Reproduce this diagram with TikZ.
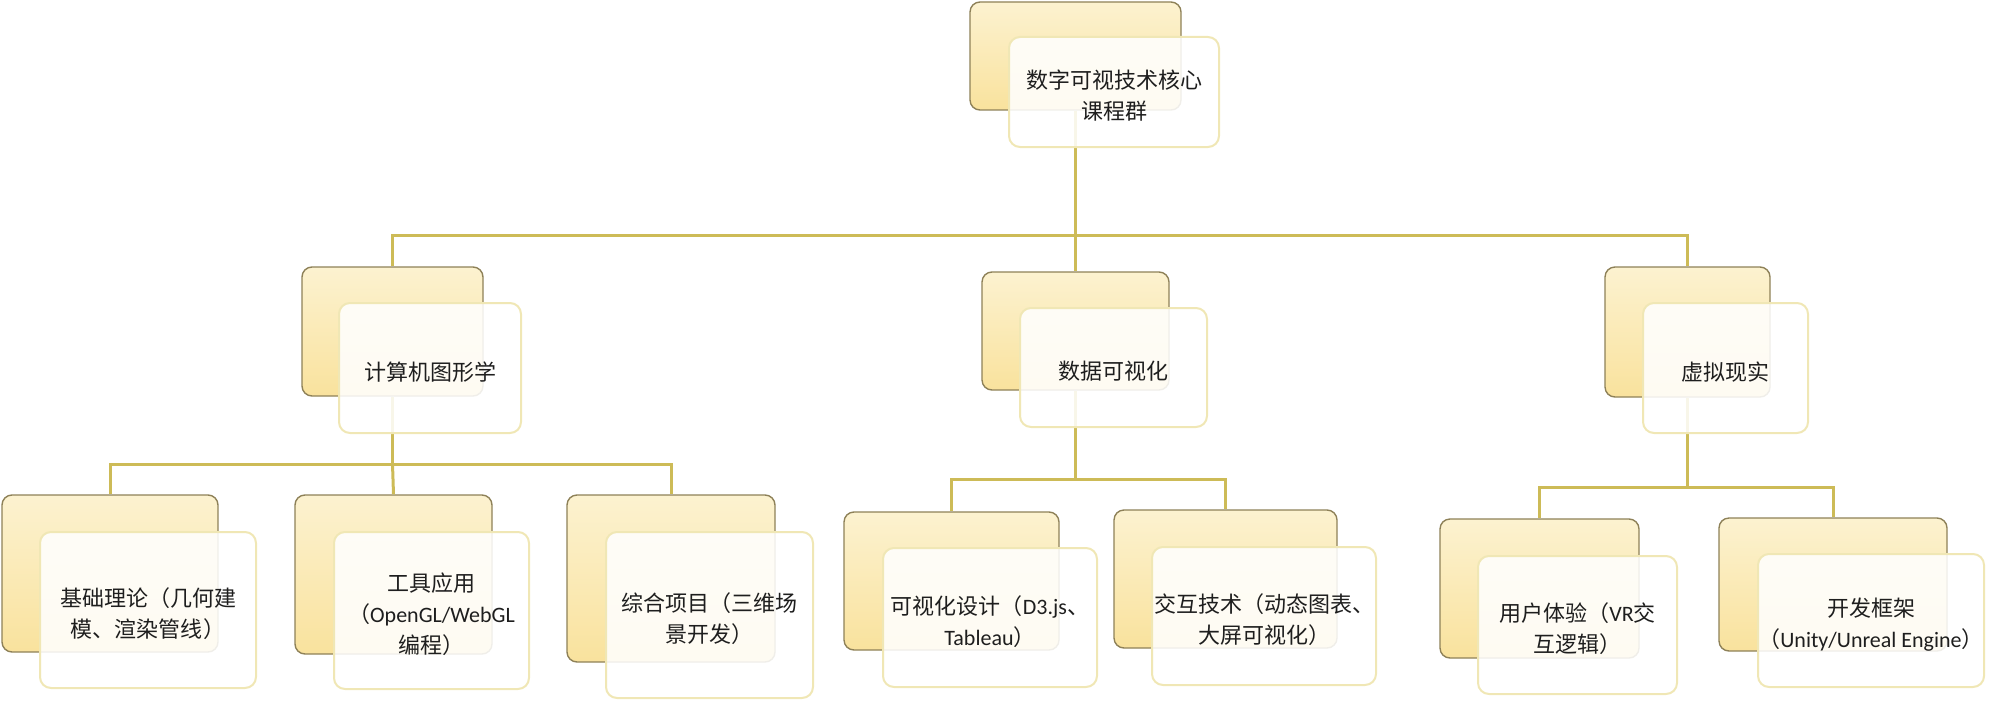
\documentclass[tikz,border=0pt]{standalone}
\usepackage{fontspec}
\setmainfont{Carlito}
\newfontfamily\cjk{Noto Sans CJK SC}
\newfontfamily\lat{Carlito}
\usetikzlibrary{fit}
\definecolor{backtop}{HTML}{FCF2D0}
\definecolor{backbot}{HTML}{F9E29D}
\definecolor{backline}{HTML}{8E8158}
\definecolor{frontline}{HTML}{F0E7B5}
\definecolor{conn}{HTML}{CDBB57}
\definecolor{txtcol}{HTML}{1E1E1E}
\tikzset{
  backbox/.style={rectangle, rounded corners=5pt, draw=backline, line width=0.7pt,
    top color=backtop, bottom color=backbot, inner sep=0pt},
  frontbox/.style={rectangle, rounded corners=5.5pt, draw=frontline, line width=1pt,
    fill=white, fill opacity=0.87, inner sep=0pt},
  txt/.style={align=center, text=txtcol, inner sep=0pt, yshift=-2pt,
    font=\cjk\fontsize{11}{15.5}\selectfont},
  link/.style={draw=conn, line width=1.5pt}
}
\begin{document}
\begin{tikzpicture}[x=0.5pt, y=-0.5pt]
\useasboundingbox (0,0) rectangle (2000,717);
% back boxes
\node[backbox, fit={(970,2) (1181,110)}] (b0) {};
\node[backbox, fit={(302,267) (483,396)}] (b1) {};
\node[backbox, fit={(982,272) (1169,390)}] (b2) {};
\node[backbox, fit={(1605,267) (1770,397)}] (b3) {};
\node[backbox, fit={(2,495) (218,652)}] (b11) {};
\node[backbox, fit={(295,495) (492,654)}] (b12) {};
\node[backbox, fit={(567,495) (775,662)}] (b13) {};
\node[backbox, fit={(844,512) (1059,650)}] (b21) {};
\node[backbox, fit={(1114,510) (1337,648)}] (b22) {};
\node[backbox, fit={(1440,519) (1639,658)}] (b31) {};
\node[backbox, fit={(1719,518) (1947,651)}] (b32) {};
% bar levels
\coordinate (y0) at (0,235);
\coordinate (y1) at (0,464);
\coordinate (y2) at (0,479);
\coordinate (y3) at (0,487);
% connectors
\draw[link] (b0.south) -- (b0.south |- y0) -| (b1.north);
\draw[link] (b0.south |- y0) -- (b2.north);
\draw[link] (b0.south |- y0) -| (b3.north);
\draw[link] (b1.south) -- (b1.south |- y1) -| (b11.north);
\draw[link] (b1.south |- y1) -| (b13.north);
\draw[link] (b1.south |- y1) -- (b12.north);
\draw[link] (b2.south) -- (b2.south |- y2) -| (b21.north);
\draw[link] (b2.south |- y2) -| (b22.north);
\draw[link] (b3.south) -- (b3.south |- y3) -| (b31.north);
\draw[link] (b3.south |- y3) -| (b32.north);
% front boxes
\node[frontbox, fit={(1009,37) (1219,147)}] (f0) {};
\node[frontbox, fit={(339,303) (521,433)}] (f1) {};
\node[frontbox, fit={(1020,308) (1207,427)}] (f2) {};
\node[frontbox, fit={(1643,303) (1808,433)}] (f3) {};
\node[frontbox, fit={(40,532) (256,688)}] (f11) {};
\node[frontbox, fit={(334,532) (529,689)}] (f12) {};
\node[frontbox, fit={(606,532) (813,698)}] (f13) {};
\node[frontbox, fit={(883,548) (1097,687)}] (f21) {};
\node[frontbox, fit={(1152,547) (1376,685)}] (f22) {};
\node[frontbox, fit={(1478,556) (1677,694)}] (f31) {};
\node[frontbox, fit={(1758,554) (1984,687)}] (f32) {};
% texts
\node[txt] (t0) at (f0) {数字可视技术核心\\课程群};
\node[txt] (t1) at (f1) {计算机图形学};
\node[txt] (t2) at (f2) {数据可视化};
\node[txt] (t3) at (f3) {虚拟现实};
\node[txt] (t11) at (f11) {基础理论（几何建\\模、渲染管线）};
\node[txt] (t12) at (f12) {工具应用\\（{\lat OpenGL/WebGL}\\编程）};
\node[txt] (t13) at (f13) {综合项目（三维场\\景开发）};
\node[txt] (t21) at (f21) {可视化设计（{\lat D3.js}、\\{\lat Tableau}）};
\node[txt] (t22) at (f22) {交互技术（动态图表、\\大屏可视化）};
\node[txt] (t31) at (f31) {用户体验（{\lat VR}交\\互逻辑）};
\node[txt] (t32) at (f32) {开发框架\\（{\lat Unity/Unreal Engine}）};
\end{tikzpicture}
\end{document}
